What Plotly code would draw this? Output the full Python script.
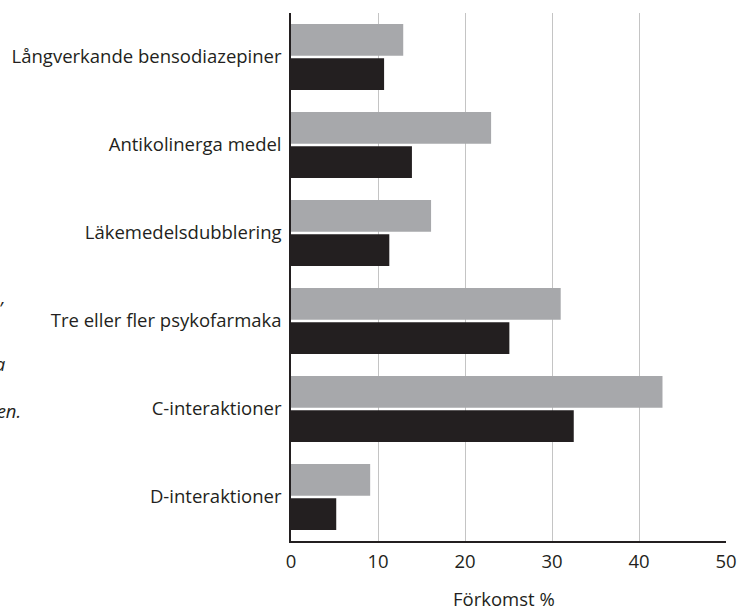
import plotly.graph_objects as go

# Categories listed top to bottom
categories = [
    "Långverkande bensodiazepiner",
    "Antikolinerga medel",
    "Läkemedelsdubblering",
    "Tre eller fler psykofarmaka",
    "C-interaktioner",
    "D-interaktioner",
]
serie_1 = [12.9, 23.0, 16.1, 31.0, 42.7, 9.1]   # light gray bars
serie_2 = [10.7, 13.9, 11.3, 25.1, 32.5, 5.2]   # dark bars
x_ticks = [0, 10, 20, 30, 40, 50]
x_title = "Förkomst %"

W, H = 749, 609
L, R, T, B = 290, 12, 13, 68
PW, PH = W - L - R, H - T - B
TEXT = "#231f20"
FONT = "Open Sans"
FS = 18.5

fig = go.Figure()
fig.add_trace(go.Bar(y=categories, x=serie_1, orientation="h", name="Serie 1",
                     marker=dict(color="#a7a8ab", line=dict(width=0))))
fig.add_trace(go.Bar(y=categories, x=serie_2, orientation="h", name="Serie 2",
                     marker=dict(color="#231f20", line=dict(width=0))))

fig.update_layout(
    width=W, height=H,
    margin=dict(l=L, r=R, t=T, b=B),
    paper_bgcolor="white", plot_bgcolor="white",
    barmode="group", bargap=0.22, bargroupgap=0.07,
    showlegend=False,
    font=dict(family=FONT, size=FS, color=TEXT),
    xaxis=dict(
        range=[0, 50], tickvals=x_ticks, ticktext=[str(v) for v in x_ticks],
        showgrid=True, gridcolor="#c4c4c4", gridwidth=1.2,
        zeroline=False, showline=True, linecolor="#231f20", linewidth=1.5,
        ticks="", tickfont=dict(size=FS), ticklabelstandoff=3,
    ),
    yaxis=dict(
        categoryorder="array", categoryarray=categories, autorange="reversed",
        showgrid=False, zeroline=False, showline=True,
        linecolor="#231f20", linewidth=1.5, ticks="",
        tickfont=dict(size=FS), ticklabelstandoff=4,
    ),
)

fig.add_annotation(text=x_title, xref="paper", yref="paper",
                   x=(508.5 - L) / PW, y=(541 - 598) / PH,
                   xanchor="center", yanchor="middle", showarrow=False,
                   font=dict(size=FS, color=TEXT, family=FONT))

# Edge of an adjacent italic text column, cut at the left border
for txt, xr, yp in [("’", -3, 307), ("da", -1, 363), ("nen.", 15, 410)]:
    fig.add_annotation(text="<i>" + txt + "</i>", xref="paper", yref="paper",
                       x=(xr - L) / PW, y=(541 - yp) / PH,
                       xanchor="right", yanchor="middle", showarrow=False,
                       font=dict(size=FS, color=TEXT, family=FONT))

fig.write_html("out.html")
